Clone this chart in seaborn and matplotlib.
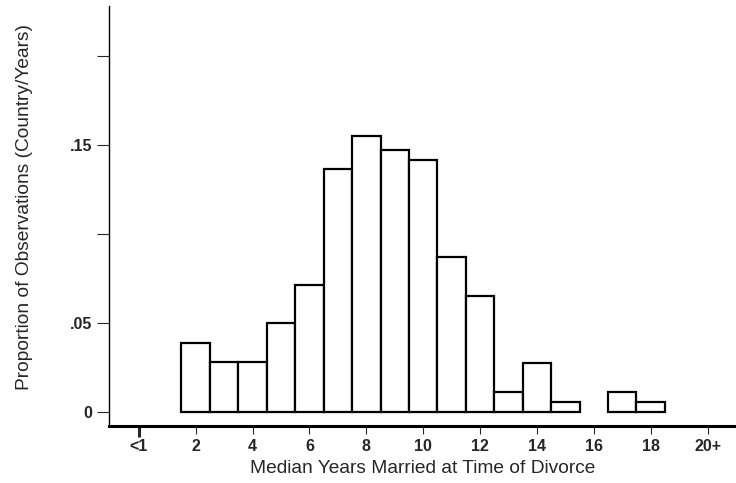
import numpy as np
import pandas as pd
import matplotlib
matplotlib.use('Agg')
import matplotlib.pyplot as plt
import seaborn as sns

# median years married -> proportion of country/years
years = [2, 3, 4, 5, 6, 7, 8, 9, 10, 11, 12, 13, 14, 15, 17, 18]
props = [0.0388, 0.0281, 0.0281, 0.0500, 0.0712, 0.1361, 0.1547, 0.1468,
         0.1416, 0.0872, 0.0653, 0.0112, 0.0275, 0.0056, 0.0112, 0.0056]
xticks = [0, 2, 4, 6, 8, 10, 12, 14, 16, 18, 20]
xticklabels = ['<1', '2', '4', '6', '8', '10', '12', '14', '16', '18', '20+']
yticks = [0, 0.05, 0.1, 0.15, 0.2]
yticklabels = ['0', '.05', '', '.15', '']

sns.set_style('white')
plt.rcParams['font.family'] = ['Liberation Sans', 'DejaVu Sans']

df = pd.DataFrame({'years': years, 'prop': props})

fig = plt.figure(figsize=(7.36, 4.83), dpi=100)
ax = fig.add_axes([0.148, 0.118, 0.852, 0.870])

sns.histplot(data=df, x='years', weights='prop', discrete=True, ax=ax,
             color='white', edgecolor='black', linewidth=1.6, alpha=1)
# empty bins should not leave a line on the baseline
for p in ax.patches:
    if p.get_height() == 0:
        p.set_visible(False)

ax.set_xlim(-1.05, 21.0)
ax.set_ylim(-0.0079, 0.228)
ax.set_xticks(xticks)
ax.set_xticklabels(xticklabels, fontsize=11.5, fontweight='bold')
ax.set_yticks(yticks)
ax.set_yticklabels(yticklabels, fontsize=11.5, fontweight='bold')
ax.tick_params(axis='y', direction='out', length=9, width=0.8, left=True, pad=3)
ax.tick_params(axis='x', direction='out', length=6, width=0.8, bottom=True, pad=3)
ax.xaxis.get_major_ticks()[0].tick1line.set_markeredgewidth(2.2)
ax.xaxis.get_major_ticks()[0].tick1line.set_markersize(8)

for s in ['top', 'right']:
    ax.spines[s].set_visible(False)
ax.spines['bottom'].set_linewidth(2.2)
ax.spines['left'].set_linewidth(1.0)
ax.spines['bottom'].set_color('black')
ax.spines['left'].set_color('black')

ax.set_xlabel('Median Years Married at Time of Divorce', fontsize=13.8, labelpad=5)
ax.set_ylabel('Proportion of Observations (Country/Years)', fontsize=13.8)
ax.yaxis.set_label_coords(-0.121, 0.521)

fig.savefig('out.png', dpi=100)
